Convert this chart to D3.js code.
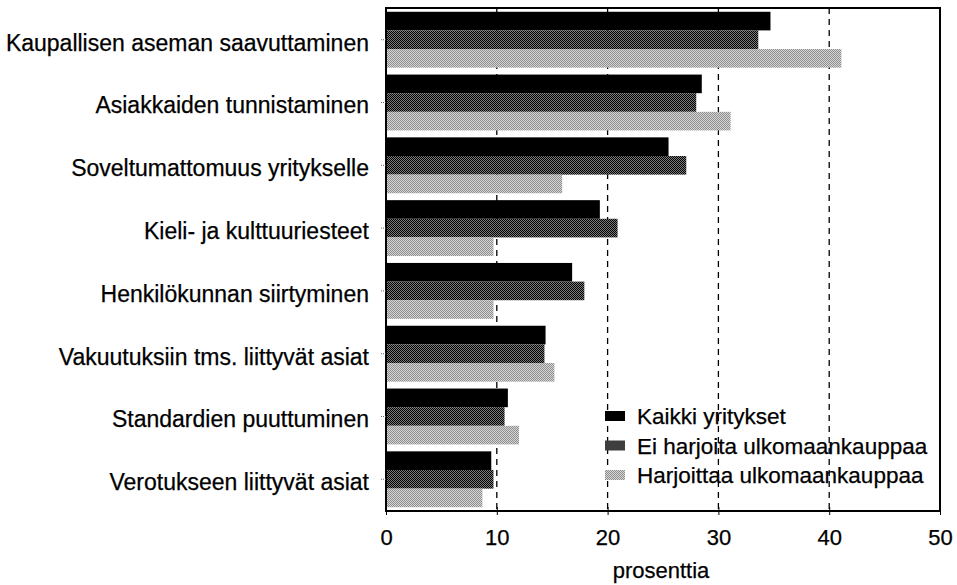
<!DOCTYPE html>
<html>
<head>
<meta charset="utf-8">
<script src="https://cdn.jsdelivr.net/npm/d3@7"></script>
<style>
  body { margin: 0; background: #fff; }
  svg text { font-family: "Liberation Sans", Arial, sans-serif; fill: #000; stroke: #000; stroke-width: 0.25px; }
</style>
</head>
<body>
<svg id="chart" width="957" height="585"></svg>
<script>
// categories, top to bottom
const categories = [
  "Kaupallisen aseman saavuttaminen",
  "Asiakkaiden tunnistaminen",
  "Soveltumattomuus yritykselle",
  "Kieli- ja kulttuuriesteet",
  "Henkilökunnan siirtyminen",
  "Vakuutuksiin tms. liittyvät asiat",
  "Standardien puuttuminen",
  "Verotukseen liittyvät asiat"
];
const seriesNames = ["Kaikki yritykset", "Ei harjoita ulkomaankauppaa", "Harjoittaa ulkomaankauppaa"];
const kaikki     = [34.7, 28.5, 25.5, 19.3, 16.8, 14.4, 11.0, 9.5];
const eiHarjoita = [33.6, 28.0, 27.1, 20.9, 17.9, 14.3, 10.7, 9.7];
const harjoittaa = [41.1, 31.1, 15.9, 9.7, 9.7, 15.2, 12.0, 8.7];
const xTicks = [0, 10, 20, 30, 40, 50];
const gridTicks = [10, 20, 30, 40];
const axisTitle = "prosenttia";

const series = [kaikki, eiHarjoita, harjoittaa];

const svg = d3.select("#chart");
const plotL = 386, plotR = 940, plotT = 8, plotB = 511;

// dithered fills, like the scanned original
const defs = svg.append("defs");
function checker(id, a, b) {
  const p = defs.append("pattern").attr("id", id)
    .attr("patternUnits", "userSpaceOnUse").attr("width", 2).attr("height", 2);
  p.append("rect").attr("width", 2).attr("height", 2).attr("fill", a);
  p.append("rect").attr("width", 1).attr("height", 1).attr("fill", b);
  p.append("rect").attr("x", 1).attr("y", 1).attr("width", 1).attr("height", 1).attr("fill", b);
}
checker("pDark", "#7c7c7c", "#000");
checker("pLight", "#d6d6d6", "#8e8e8e");
const fills = ["#000", "url(#pDark)", "url(#pLight)"];

const x = d3.scaleLinear().domain([0, 50]).range([plotL, plotR]);
const y = d3.scaleBand().domain(categories).range([plotT, plotB])
  .paddingInner(0.11).paddingOuter(0.06);
const yInner = d3.scaleBand().domain(d3.range(3)).range([0, y.bandwidth()]);

// dashed grid
svg.append("g").selectAll("line").data(gridTicks).join("line")
  .attr("x1", d => x(d)).attr("x2", d => x(d))
  .attr("y1", plotT).attr("y2", plotB)
  .attr("stroke", "#000").attr("stroke-width", 1.3)
  .attr("stroke-dasharray", "6,5");

// bars
series.forEach((vals, s) => {
  svg.append("g").selectAll("rect").data(vals).join("rect")
    .attr("x", x(0))
    .attr("y", (d, i) => y(categories[i]) + yInner(s))
    .attr("width", d => x(d) - x(0))
    .attr("height", yInner.bandwidth())
    .attr("fill", fills[s]);
});

// frame
svg.append("rect")
  .attr("x", plotL).attr("y", plotT)
  .attr("width", plotR - plotL).attr("height", plotB - plotT)
  .attr("fill", "none").attr("stroke", "#000").attr("stroke-width", 2);

// x axis
const xAxis = svg.append("g")
  .attr("transform", `translate(0,${plotB})`)
  .call(d3.axisBottom(x).tickValues(xTicks).tickSize(4).tickPadding(14));
xAxis.select(".domain").remove();
xAxis.selectAll("text").attr("font-size", 22);
xAxis.selectAll(".tick line").attr("y1", -4).attr("stroke", "#000");

// y axis
const yAxis = svg.append("g")
  .attr("transform", `translate(${plotL},0)`)
  .call(d3.axisLeft(y).tickSize(6).tickPadding(11));
yAxis.select(".domain").remove();
yAxis.selectAll(".tick line").attr("stroke", "#666").attr("stroke-dasharray", "1,1");
yAxis.selectAll("text").attr("font-size", 23).attr("dy", "0.47em");

// axis title
svg.append("text")
  .attr("x", (plotL + plotR) / 2 - 2).attr("y", 578)
  .attr("text-anchor", "middle").attr("font-size", 22)
  .text(axisTitle);

// legend
const legend = svg.append("g").attr("transform", "translate(605,416)");
seriesNames.forEach((name, i) => {
  const g = legend.append("g").attr("transform", `translate(0,${i * 29.5})`);
  g.append("rect").attr("x", 0).attr("y", -5).attr("width", 20).attr("height", 10)
    .attr("fill", fills[i]);
  g.append("text").attr("x", 32).attr("y", 0).attr("dy", "0.36em")
    .attr("font-size", 22.5).text(name);
});
</script>
</body>
</html>
